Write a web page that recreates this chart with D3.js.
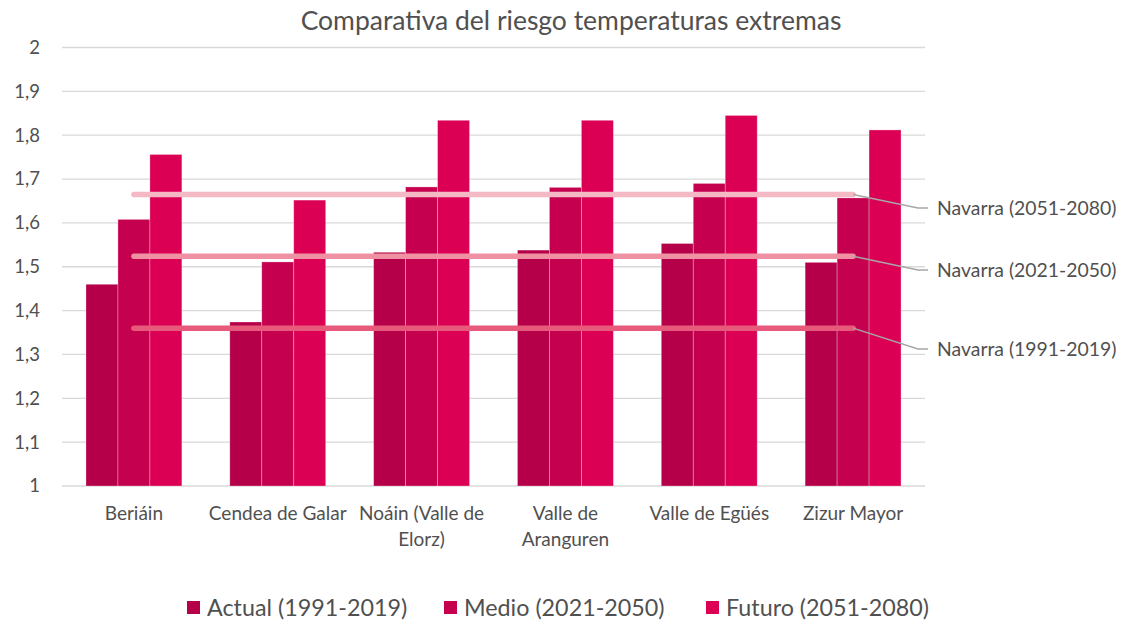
<!DOCTYPE html>
<html>
<head>
<meta charset="utf-8">
<script src="https://cdn.jsdelivr.net/npm/d3@7"></script>
<style>
  html, body { margin: 0; padding: 0; background: #fff; }
  svg { display: block; font-family: Lato, "Open Sans", sans-serif; }
</style>
</head>
<body>
<svg id="chart" width="1121" height="621"></svg>
<script>
// Municipios y series
const categories = ["Beriáin", "Cendea de Galar", "Noáin (Valle de Elorz)", "Valle de Aranguren", "Valle de Egüés", "Zizur Mayor"];
const seriesNames = ["Actual (1991-2019)", "Medio (2021-2050)", "Futuro (2051-2080)"];
const actual = [1.46, 1.374, 1.533, 1.538, 1.553, 1.51];
const medio  = [1.608, 1.511, 1.682, 1.681, 1.69, 1.657];
const futuro = [1.756, 1.652, 1.834, 1.834, 1.845, 1.812];

// Referencias de Navarra
const navarraLabels = ["Navarra (2051-2080)", "Navarra (2021-2050)", "Navarra (1991-2019)"];
const navarraValues = [1.665, 1.524, 1.36];

const yTicks = [1, 1.1, 1.2, 1.3, 1.4, 1.5, 1.6, 1.7, 1.8, 1.9, 2];

const seriesColors = ["#b50049", "#c4004f", "#dc0055"];
const navarraColors = ["#f4b9c5", "#ef91a3", "#e75a7c"];
const textColor = "#505050";

const svg = d3.select("#chart");
const margin = { left: 62, right: 196, top: 47.5, bottom: 135 };
const W = 1121, H = 621;
const plotW = W - margin.left - margin.right;
const plotH = H - margin.top - margin.bottom;

const x0 = d3.scaleBand().domain(categories).range([margin.left, margin.left + plotW]).paddingInner(0).paddingOuter(0);
const groupPad = x0.bandwidth() / 6;
const x1 = d3.scaleBand().domain(seriesNames).range([groupPad, x0.bandwidth() - groupPad]).padding(0);
const y = d3.scaleLinear().domain([1, 2]).range([margin.top + plotH, margin.top]);

// Title
svg.append("text")
  .attr("x", 571).attr("y", 30)
  .attr("text-anchor", "middle")
  .attr("fill", textColor)
  .attr("font-size", 26.5)
  .text("Comparativa del riesgo temperaturas extremas");

// Gridlines
svg.append("g").selectAll("line").data(yTicks).join("line")
  .attr("x1", margin.left).attr("x2", margin.left + plotW)
  .attr("y1", d => y(d)).attr("y2", d => y(d))
  .attr("stroke", "#d9d9d9").attr("stroke-width", 1.3);

// Y axis labels
const fmt = d => d3.format(".1f")(d).replace(".0", "").replace(".", ",");
const yAxis = d3.axisLeft(y).tickValues(yTicks).tickFormat(fmt).tickSize(0).tickPadding(22);
const yg = svg.append("g").attr("transform", `translate(${margin.left},0)`).call(yAxis);
yg.select(".domain").remove();
yg.selectAll("text").attr("fill", textColor).attr("font-size", 18.5).attr("font-family", "Lato, 'Open Sans', sans-serif");

// Bars
const seriesData = [actual, medio, futuro];
const rows = categories.map((c, i) => ({ cat: c, vals: seriesNames.map((s, k) => ({ s, k, v: seriesData[k][i] })) }));
const groups = svg.append("g").selectAll("g").data(rows).join("g")
  .attr("transform", d => `translate(${x0(d.cat)},0)`);
groups.selectAll("rect").data(d => d.vals).join("rect")
  .attr("x", d => x1(d.s))
  .attr("width", x1.bandwidth())
  .attr("y", d => y(d.v))
  .attr("height", d => y(1) - y(d.v))
  .attr("fill", d => seriesColors[d.k])
  .attr("stroke", "#ffffff").attr("stroke-opacity", 0.35).attr("stroke-width", 0.8);

// Category labels with wrapping
const catG = svg.append("g");
const wrapWidth = x0.bandwidth() + 8;
categories.forEach(c => {
  const cx = x0(c) + x0.bandwidth() / 2;
  const t = catG.append("text")
    .attr("x", cx).attr("y", 520)
    .attr("text-anchor", "middle")
    .attr("fill", textColor)
    .attr("font-size", 19);
  const words = c.split(" ");
  let line = [];
  let tspan = t.append("tspan").attr("x", cx).attr("dy", 0);
  words.forEach(w => {
    line.push(w);
    tspan.text(line.join(" "));
    if (tspan.node().getComputedTextLength() > wrapWidth && line.length > 1) {
      line.pop();
      tspan.text(line.join(" "));
      line = [w];
      tspan = t.append("tspan").attr("x", cx).attr("dy", 26).text(w);
    }
  });
});

// Navarra reference lines
const lineStart = x0(categories[0]) + x0.bandwidth() / 2;
const lineEnd = x0(categories[categories.length - 1]) + x0.bandwidth() / 2;
const labelY = [208, 270, 349];
const navG = svg.append("g");
navarraValues.forEach((v, i) => {
  navG.append("line")
    .attr("x1", lineStart).attr("x2", lineEnd)
    .attr("y1", y(v)).attr("y2", y(v))
    .attr("stroke", navarraColors[i]).attr("stroke-width", 5.5)
    .attr("stroke-linecap", "round");
});
navarraValues.forEach((v, i) => {
  navG.append("polyline")
    .attr("points", `${lineEnd},${y(v)} ${918},${labelY[i]} ${928},${labelY[i]}`)
    .attr("fill", "none").attr("stroke", "#a6a6a6").attr("stroke-width", 1.5);
  navG.append("text")
    .attr("x", 937).attr("y", labelY[i])
    .attr("dy", "0.35em")
    .attr("fill", textColor).attr("font-size", 19.4)
    .text(navarraLabels[i]);
});

// Legend
const legendX = [187, 444, 706];
const lg = svg.append("g");
seriesNames.forEach((s, k) => {
  lg.append("rect").attr("x", legendX[k]).attr("y", 601).attr("width", 13).attr("height", 13).attr("fill", seriesColors[k]);
  lg.append("text").attr("x", legendX[k] + 20).attr("y", 608).attr("dy", "0.35em")
    .attr("fill", textColor).attr("font-size", 23.3).text(s);
});
</script>
</body>
</html>
